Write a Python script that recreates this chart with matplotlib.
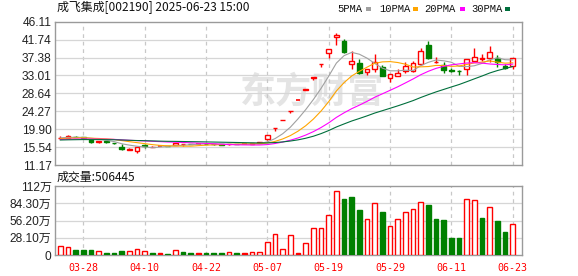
import numpy as np
import pandas as pd
import matplotlib
matplotlib.use('Agg')
import matplotlib.pyplot as plt
from matplotlib.patches import Rectangle

# dados (002190, diário)
dates = ['03-25', '03-26', '03-27', '03-28', '03-31',
         '04-01', '04-02', '04-03', '04-07', '04-08', '04-09', '04-10', '04-11',
         '04-14', '04-15', '04-16', '04-17', '04-18', '04-21', '04-22', '04-23',
         '04-24', '04-25', '04-28', '04-29', '04-30',
         '05-06', '05-07', '05-08', '05-09', '05-12', '05-13', '05-14', '05-15',
         '05-16', '05-19', '05-20', '05-21', '05-22', '05-23', '05-26', '05-27',
         '05-28', '05-29', '05-30',
         '06-03', '06-04', '06-05', '06-06', '06-09', '06-10', '06-11', '06-12',
         '06-13', '06-16', '06-17', '06-18', '06-19', '06-20', '06-23']

open_ = [17.70, 17.80, 18.10, 17.90, 17.26, 16.80, 16.95, 16.60, 15.60, 14.90,
         14.70, 15.95, 15.55, 15.80, 15.80, 16.00, 16.30, 16.35, 16.30, 16.35,
         16.30, 16.20, 16.20, 16.35, 16.30, 16.30, 16.55, 17.55, 20.15, 22.15,
         24.40, 26.90, 29.50, 32.50, 35.70, 38.50, 42.50, 41.50, 35.72, 36.11,
         33.92, 34.50, 35.14, 32.30, 32.87, 34.09, 34.10, 35.80, 40.50, 36.20,
         35.55, 34.30, 34.10, 34.50, 36.60, 37.10, 37.33, 37.18, 35.31, 35.39]
high = [18.20, 18.40, 18.20, 17.95, 17.30, 16.95, 17.00, 16.65, 16.30, 15.30,
        15.55, 16.20, 15.70, 15.90, 15.85, 16.50, 16.40, 16.40, 16.35, 16.45,
        16.40, 16.25, 16.40, 16.40, 16.35, 16.50, 16.75, 18.37, 20.21, 22.23,
        24.45, 26.90, 29.59, 32.55, 35.80, 39.38, 43.32, 41.90, 39.04, 36.94,
        34.60, 38.16, 35.55, 33.30, 34.50, 36.36, 36.50, 39.60, 41.50, 37.50,
        36.20, 34.75, 34.33, 36.94, 39.60, 38.24, 40.25, 38.00, 35.72, 37.20]
low = [17.40, 17.75, 17.90, 17.60, 16.45, 16.60, 16.65, 16.40, 14.90, 14.85,
       14.20, 15.40, 15.50, 15.70, 15.70, 15.95, 15.90, 16.25, 16.25, 16.20,
       16.15, 16.10, 16.15, 16.20, 16.25, 16.25, 16.50, 17.30, 19.55, 22.10,
       23.92, 26.90, 29.40, 31.90, 35.00, 37.20, 40.50, 38.50, 34.58, 33.40,
       33.11, 33.92, 32.90, 31.48, 32.80, 33.53, 33.90, 35.55, 37.10, 35.95,
       33.67, 33.90, 33.10, 33.10, 36.50, 36.60, 36.36, 35.14, 34.50, 34.58]
close = [17.85, 18.30, 17.95, 17.70, 16.70, 16.90, 16.70, 16.45, 15.00, 15.05,
         15.50, 15.80, 15.60, 15.80, 15.75, 16.45, 16.35, 16.30, 16.30, 16.25,
         16.20, 16.15, 16.35, 16.25, 16.30, 16.45, 16.70, 18.37, 20.21, 22.23,
         24.45, 26.90, 29.59, 32.55, 35.80, 39.38, 42.80, 38.65, 36.53, 33.53,
         34.57, 36.36, 32.94, 33.28, 33.53, 35.31, 35.97, 38.97, 37.30, 36.30,
         34.33, 34.20, 33.98, 36.94, 37.43, 37.20, 38.65, 36.20, 34.75, 37.18]
# volume em 万手
volume = [15.0, 13.0, 8.3, 8.3, 8.3, 6.6, 3.3, 3.3, 6.6, 6.0,
          10.0, 6.6, 3.3, 3.3, 1.7, 7.7, 5.0, 3.3, 3.3, 3.3,
          3.3, 3.3, 5.0, 3.3, 3.3, 5.0, 5.0, 21.0, 35.0, 10.0,
          33.0, 3.3, 19.0, 44.0, 44.0, 65.6, 104.0, 91.0, 94.5, 73.0,
          58.0, 84.0, 70.0, 48.0, 58.0, 69.5, 74.4, 86.0, 81.4, 58.6,
          57.0, 27.7, 27.7, 91.0, 89.6, 60.0, 78.0, 56.0, 37.5, 50.6445]
# fechamentos anteriores (estimados pelas médias móveis no início)
earlier_close = [16.9, 17.1, 16.8, 17.0, 16.9, 17.2, 17.0, 16.8, 17.1, 17.3,
                 17.0, 17.2, 17.4, 17.1, 17.0, 17.3, 17.2, 17.1, 17.4, 17.2,
                 17.3, 17.4, 17.3, 17.5, 17.6, 17.6, 17.9, 17.8, 17.7]

price_ticks = [11.17, 15.54, 19.90, 24.27, 28.64, 33.01, 37.38, 41.74, 46.11]
vol_ticks = [0, 28.10, 56.20, 84.30, 112.40]
vol_tick_labels = ['0', '28.10万', '56.20万', '84.30万', '112万']
date_ticks = ['03-28', '04-10', '04-22', '05-07', '05-19', '05-29', '06-11', '06-23']
ma_periods = [5, 10, 20, 30]
ma_colors = ['#a0a0a0', '#ffa500', '#ff00ff', '#006f3c']

RED = '#ff0000'
GREEN = '#008000'
FRAME = '#9a9a9a'
GRID = '#d6d6d6'

df = pd.DataFrame({'open': open_, 'high': high, 'low': low, 'close': close,
                   'volume': volume})
x = np.arange(len(df))
prev_close = pd.Series([earlier_close[-1]] + close[:-1])

all_close = pd.Series(earlier_close + close)

W, H = 578, 276
fig = plt.figure(figsize=(W / 100, H / 100), dpi=100)
ax = fig.add_axes([55 / W, 1 - 165 / H, 467 / W, (165 - 21.7) / H])
axv = fig.add_axes([55 / W, 1 - 255 / H, 467 / W, 69 / H])

# marca d'água
ax.text(0.55, 0.51, '东方财富', transform=ax.transAxes, fontsize=26,
        family=['Noto Sans CJK SC'], fontweight='bold', color='#e4e4e4',
        ha='center', va='center', zorder=0)

# candles
w = 0.6
ax.vlines(x, df['low'], df['high'],
          colors=[RED if c >= o else GREEN for o, c in zip(open_, close)],
          linewidth=1, zorder=2)
for i in x:
    o, c = open_[i], close[i]
    if c > o:
        ax.add_patch(Rectangle((i - w / 2, o), w, c - o, facecolor='white',
                               edgecolor=RED, linewidth=1, zorder=3))
    elif c < o:
        ax.add_patch(Rectangle((i - w / 2, c), w, o - c, facecolor=GREEN,
                               edgecolor=GREEN, linewidth=1, zorder=3))
    else:
        col = RED if c >= prev_close[i] else GREEN
        ax.hlines(c, i - w / 2, i + w / 2, colors=col, linewidth=1.2, zorder=3)

# médias móveis
for n, col in zip(ma_periods, ma_colors):
    ma = all_close.rolling(n).mean().iloc[-len(df):].values
    ax.plot(x, ma, color=col, linewidth=0.8, zorder=4)

# volume
for i in x:
    o, c, v = open_[i], close[i], volume[i]
    if c < prev_close[i]:
        axv.bar(i, v, width=w, color=GREEN, edgecolor=GREEN, linewidth=1, zorder=3)
    elif c == o:
        axv.bar(i, v, width=w, color=RED, edgecolor=RED, linewidth=1, zorder=3)
    else:
        axv.bar(i, v, width=w, color='white', edgecolor=RED, linewidth=1, zorder=3)

tick_pos = [dates.index(d) for d in date_ticks]
for a in (ax, axv):
    a.set_xlim(-0.69, 60.2)
    a.set_xticks(tick_pos)
    for xp in tick_pos:
        a.axvline(xp, color='#c8c8c8', linestyle=(0, (3, 3)), linewidth=0.9, zorder=1)
    for s in a.spines.values():
        s.set_color(FRAME)
        s.set_linewidth(1)
    a.tick_params(length=0)

ax.set_ylim(price_ticks[0], price_ticks[-1])
ax.set_yticks(price_ticks)
ax.set_yticklabels(['%.2f' % t for t in price_ticks], family='Liberation Sans',
                   fontsize=8.6, color='#222222')
ax.tick_params(axis='y', pad=2.5)
ax.set_xticklabels([])
for t in price_ticks[1:-1]:
    ax.axhline(t, color=GRID, linewidth=0.9, zorder=1)

axv.set_ylim(0, vol_ticks[-1])
axv.set_yticks(vol_ticks)
axv.set_yticklabels(vol_tick_labels, family=['Liberation Sans', 'Noto Sans CJK SC'],
                    fontsize=8.6, color='#222222')
axv.tick_params(axis='y', pad=2.5)
axv.set_xticklabels(date_ticks, family='DejaVu Sans Mono', fontsize=7.2, color=RED)
axv.tick_params(axis='x', pad=6)
for t in vol_ticks[1:-1]:
    axv.axhline(t, color=GRID, linewidth=0.9, zorder=1)

# títulos e legenda
fig.text(57 / W, 1 - 8 / H, '成飞集成[002190] 2025-06-23 15:00',
         family=['Noto Sans CJK SC'], fontsize=8.6, va='center', color='#111111')
fig.text(57 / W, 1 - 177 / H, '成交量:%d' % round(volume[-1] * 10000),
         family=['Noto Sans CJK SC'], fontsize=8.6, va='center', color='#111111')

leg_x = [337, 379, 424, 471]
leg_sq = [366, 413, 460, 505]
for n, col, lx, sx in zip(ma_periods, ma_colors, leg_x, leg_sq):
    fig.text(lx / W, 1 - 8.5 / H, '%dPMA' % n, family='Liberation Mono',
             fontsize=7.6, va='center', color='#111111')
    fig.patches.append(Rectangle((sx / W, 1 - 10.5 / H), 5 / W, 3.5 / H,
                                 transform=fig.transFigure, facecolor=col,
                                 edgecolor='none'))

fig.savefig('out.png', dpi=100)
plt.close()
